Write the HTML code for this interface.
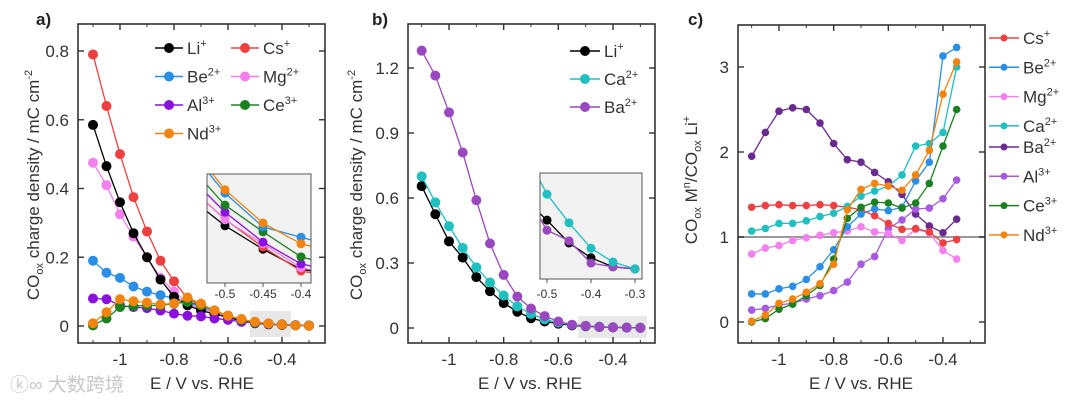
<!DOCTYPE html>
<html><head><meta charset="utf-8"><style>
body{margin:0;background:#fff;}
svg{display:block;font-family:"Liberation Sans","Noto Sans CJK SC",sans-serif;}
</style></head><body>
<svg id="fig" width="1080" height="403" viewBox="0 0 1080 403"></svg>
<script>
const xA = [-1.1,-1.05,-1,-0.95,-0.9,-0.85,-0.8,-0.75,-0.7,-0.65,-0.6,-0.55,-0.5,-0.45,-0.4,-0.35,-0.3];
const aCs = [0.79,0.64,0.50,0.375,0.275,0.19,0.13,0.08,0.06,0.045,0.03,0.02,0.012,0.007,0.004,0.002,0.001];
const aLi = [0.585,0.465,0.36,0.27,0.2,0.135,0.085,0.06,0.045,0.035,0.025,0.015,0.008,0.005,0.003,0.002,0.001];
const aMg = [0.475,0.41,0.325,0.26,0.2,0.14,0.10,0.065,0.05,0.04,0.025,0.015,0.01,0.006,0.003,0.002,0.001];
const aBe = [0.19,0.155,0.14,0.115,0.10,0.09,0.08,0.07,0.055,0.04,0.025,0.015,0.01,0.007,0.005,0.003,0.002];
const aAl = [0.08,0.078,0.06,0.055,0.052,0.045,0.036,0.03,0.028,0.022,0.018,0.012,0.009,0.006,0.004,0.002,0.001];
const aCe = [0.002,0.022,0.055,0.058,0.06,0.06,0.065,0.07,0.06,0.045,0.03,0.018,0.01,0.007,0.004,0.002,0.001];
const aNd = [0.008,0.04,0.078,0.072,0.068,0.063,0.066,0.083,0.065,0.045,0.03,0.02,0.012,0.007,0.004,0.002,0.001];
const xAin = [-0.55,-0.5,-0.45,-0.4,-0.35];
const inLi = [0.016,0.0105,0.0062,0.0025,0.0015];
const inCs = [0.018,0.0117,0.0066,0.0022,0.001];
const inMg = [0.018,0.0116,0.0072,0.0028,0.0015];
const inAl = [0.020,0.0130,0.0075,0.0035,0.002];
const inCe = [0.022,0.0143,0.0094,0.0048,0.003];
const inBe = [0.025,0.0165,0.0103,0.0084,0.0065];
const inNd = [0.026,0.0171,0.0110,0.0072,0.0055];
const bBa = [1.28,1.165,0.995,0.81,0.59,0.39,0.245,0.145,0.09,0.055,0.03,0.015,0.01,0.005,0.003,0.002,0.001];
const bCa = [0.70,0.58,0.47,0.37,0.28,0.21,0.15,0.10,0.065,0.04,0.025,0.015,0.01,0.006,0.004,0.002,0.001];
const bLi = [0.655,0.525,0.40,0.325,0.235,0.17,0.115,0.075,0.045,0.03,0.02,0.012,0.008,0.005,0.003,0.002,0.001];
const xBin = [-0.55,-0.5,-0.45,-0.4,-0.35,-0.3];
const ibCa = [0.024,0.016,0.0106,0.0058,0.0032,0.0019];
const ibBa = [0.016,0.0092,0.0072,0.003,0.0023,0.0019];
const ibLi = [0.015,0.0111,0.0068,0.004,0.0023,0.0019];
const xC = [-1.1,-1.05,-1,-0.95,-0.9,-0.85,-0.8,-0.75,-0.7,-0.65,-0.6,-0.55,-0.5,-0.45,-0.4,-0.35];
const cCs = [1.35,1.37,1.38,1.37,1.37,1.38,1.37,1.35,1.32,1.25,1.16,1.09,1.10,1.06,0.93,0.97];
const cBe = [0.33,0.33,0.39,0.42,0.50,0.65,0.85,1.12,1.27,1.33,1.31,1.35,1.66,1.88,3.13,3.23];
const cMg = [0.80,0.87,0.90,0.96,0.99,1.02,1.05,1.07,1.12,1.06,1.04,0.96,1.09,1.05,0.84,0.74];
const cCa = [1.07,1.10,1.16,1.16,1.19,1.24,1.28,1.36,1.48,1.54,1.60,1.73,2.07,2.10,2.23,3.0];
const cBa = [1.95,2.23,2.48,2.52,2.50,2.34,2.10,1.91,1.88,1.76,1.65,1.50,1.27,1.13,1.05,1.21];
const cAl = [0.14,0.16,0.20,0.22,0.27,0.31,0.37,0.47,0.68,0.77,1.10,1.20,1.33,1.34,1.45,1.67];
const cCe = [0,0.04,0.15,0.21,0.31,0.43,0.74,1.22,1.35,1.41,1.40,1.34,1.40,1.63,2.07,2.50];
const cNd = [0.01,0.08,0.22,0.27,0.35,0.45,0.68,1.32,1.56,1.63,1.60,1.55,1.73,2.02,2.68,3.06];
const ticksX = [-1,-0.8,-0.6,-0.4];
const ticksXLbl = ["-1","-0.8","-0.6","-0.4"];
const ticksYa = [0,0.2,0.4,0.6,0.8];
const ticksYb = [0,0.3,0.6,0.9,1.2];
const ticksYc = [0,1,2,3];

const C = {Li:'#000',Cs:'#ee4040',Be:'#2a8ee6',Mg:'#f47fee',Al:'#8a10e0',Ce:'#1a8020',Nd:'#f5840f',Ca:'#20c0c0',Ba:'#9a48c0',BaC:'#6a2a90',AlC:'#a55ae0'};
const NS='http://www.w3.org/2000/svg';
const svg=document.getElementById('fig');
function el(t,a,p){const e=document.createElementNS(NS,t);for(const k in a)e.setAttribute(k,a[k]);(p||svg).appendChild(e);return e;}
function txt(s,a,p){const e=el('text',a,p);e.innerHTML=s;return e;}
function lin(d0,d1,r0,r1){return v=>r0+(v-d0)/(d1-d0)*(r1-r0);}

function series(g,xs,ys,sx,sy,col,r,name){
  const s=el('g',{},g);
  
  
  el('polyline',{points:xs.map((x,i)=>sx(x)+','+sy(ys[i])).join(' '),fill:'none',stroke:col,'stroke-width':1.3},s);
  xs.forEach((x,i)=>{const c=el('circle',{cx:sx(x),cy:sy(ys[i]),r:r,fill:col},s);
    
    });
}
function frame(g,x0,y0,x1,y1,sx,sy,xt,xl,yt,yl,xmin){
  el('rect',{x:x0,y:y0,width:x1-x0,height:y1-y0,fill:'none',stroke:'#333','stroke-width':1.6},g);
  for(let v=-1.1;v<=-0.29;v+=0.1){const x=sx(v);el('line',{x1:x,x2:x,y1:y1,y2:y1-3,stroke:'#333'},g);el('line',{x1:x,x2:x,y1:y0,y2:y0+3,stroke:'#333'},g);}
  xt.forEach((v,i)=>{const x=sx(v);el('line',{x1:x,x2:x,y1:y1,y2:y1-6,stroke:'#333','stroke-width':1.4},g);el('line',{x1:x,x2:x,y1:y0,y2:y0+6,stroke:'#333','stroke-width':1.4},g);
    const t=txt(xl[i],{x:x,y:y1+22,'text-anchor':'middle','font-size':17,fill:'#333'},g);
    });
  yt.forEach((v,i)=>{const y=sy(v);el('line',{x1:x0,x2:x0+6,y1:y,y2:y,stroke:'#333','stroke-width':1.4},g);el('line',{x1:x1,x2:x1-6,y1:y,y2:y,stroke:'#333','stroke-width':1.4},g);
    const t=txt(yl[i],{x:x0-9,y:y+6,'text-anchor':'end','font-size':17,fill:'#333'},g);
    });
}
function legend(g,items,x,y,dy,lw,r,fs){
  items.forEach((it,i)=>{const yy=y+i*dy;const lg=el('g',{},g);
    
    el('line',{x1:x,x2:x+lw,y1:yy,y2:yy,stroke:it[1],'stroke-width':1.5},lg);
    el('circle',{cx:x+lw/2,cy:yy,r:r,fill:it[1]},lg);
    txt(it[0],{x:x+lw+4,y:yy+6,'font-size':fs,fill:'#333'},lg);});
}
function sup(a,b){return a+'<tspan dy="-7" font-size="11">'+b+'</tspan>';}

// Panel a
{const g=el('g',{});
 const sx=lin(-1,-0.4,120,282), sy=lin(0,0.8,326,51);
 el('rect',{x:250,y:311,width:41,height:26,fill:'#e8e8e8'},g);
 series(g,xA,aBe,sx,sy,C.Be,5,'series-be');series(g,xA,aMg,sx,sy,C.Mg,5,'series-mg');
 series(g,xA,aLi,sx,sy,C.Li,5,'series-li');series(g,xA,aCs,sx,sy,C.Cs,5,'series-cs');
 series(g,xA,aAl,sx,sy,C.Al,5,'series-al');series(g,xA,aCe,sx,sy,C.Ce,5,'series-ce');series(g,xA,aNd,sx,sy,C.Nd,5,'series-nd');
 frame(g,78,24,325,343,sx,sy,ticksX,ticksXLbl,ticksYa,['0','0.2','0.4','0.6','0.8']);
 legend(g,[[sup('Li','+'),C.Li],[sup('Be','2+'),C.Be],[sup('Al','3+'),C.Al],[sup('Nd','3+'),C.Nd]],155,48,28.5,28,5,17);
 legend(g,[[sup('Cs','+'),C.Cs],[sup('Mg','2+'),C.Mg],[sup('Ce','3+'),C.Ce]],231,48,28.5,28,5,17);
 // inset
 const ig=el('g',{},g);
 el('clipPath',{id:'cpa'},ig).appendChild(el('rect',{x:207,y:174,width:104,height:109},ig));
 el('rect',{x:207,y:174,width:104,height:109,fill:'#f2f2f2'},ig);
 const isx=lin(-0.5,-0.4,225,301), isy=lin(0,0.02,283,174);
 const cg=el('g',{'clip-path':'url(#cpa)'},ig);
 [[inLi,C.Li,'li'],[inCs,C.Cs,'cs'],[inMg,C.Mg,'mg'],[inAl,C.Al,'al'],[inCe,C.Ce,'ce'],[inBe,C.Be,'be'],[inNd,C.Nd,'nd']].forEach(s=>series(cg,xAin,s[0],isx,isy,s[1],4.5,'inset-series-'+s[2]));
 el('rect',{x:207,y:174,width:104,height:109,fill:'none',stroke:'#555','stroke-width':1},ig);
 [[-0.5,'-0.5'],[-0.45,'-0.45'],[-0.4,'-0.4']].forEach(t=>{el('line',{x1:isx(t[0]),x2:isx(t[0]),y1:283,y2:287,stroke:'#555'},ig);txt(t[1],{x:isx(t[0]),y:298,'text-anchor':'middle','font-size':12,fill:'#333'},ig);});
 const yl=txt('CO<tspan font-size="11" dy="4">ox</tspan><tspan dy="-4"> charge density / mC cm</tspan><tspan font-size="11" dy="-7">-2</tspan>',{transform:'translate(39,185) rotate(-90)','text-anchor':'middle','font-size':17,fill:'#333'},g);
 
 const xl=txt('E / V vs. RHE',{x:202,y:389,'text-anchor':'middle','font-size':17,fill:'#333'},g);
 
 const pl=txt('a)',{x:36,y:25,'font-size':17,'font-weight':'bold',fill:'#222'},g);
 
}
// Panel b
{const g=el('g',{});
 const sx=lin(-1,-0.4,449,613), sy=lin(0,1.2,328,68);
 el('rect',{x:578,y:316,width:69,height:22,fill:'#e8e8e8'},g);
 series(g,xA,bLi,sx,sy,C.Li,5,'series-li');series(g,xA,bCa,sx,sy,C.Ca,5,'series-ca');series(g,xA,bBa,sx,sy,C.Ba,5,'series-ba');
 frame(g,408,24,655,343,sx,sy,ticksX,ticksXLbl,ticksYb,['0','0.3','0.6','0.9','1.2']);
 legend(g,[[sup('Li','+'),C.Li],[sup('Ca','2+'),C.Ca],[sup('Ba','2+'),C.Ba]],570,51,28,30,5,17);
 const ig=el('g',{},g);
 el('clipPath',{id:'cpb'},ig).appendChild(el('rect',{x:540,y:173,width:102,height:106},ig));
 el('rect',{x:540,y:173,width:102,height:106,fill:'#f2f2f2'},ig);
 const isx=lin(-0.5,-0.3,547,635), isy=lin(0,0.02,279,173);
 const cg=el('g',{'clip-path':'url(#cpb)'},ig);
 [[ibLi,C.Li,'li'],[ibBa,C.Ba,'ba'],[ibCa,C.Ca,'ca']].forEach(s=>series(cg,xBin,s[0],isx,isy,s[1],4.5,'inset-series-'+s[2]));
 el('rect',{x:540,y:173,width:102,height:106,fill:'none',stroke:'#555','stroke-width':1},ig);
 [[-0.5,'-0.5'],[-0.4,'-0.4'],[-0.3,'-0.3']].forEach(t=>{el('line',{x1:isx(t[0]),x2:isx(t[0]),y1:279,y2:283,stroke:'#555'},ig);txt(t[1],{x:isx(t[0]),y:298,'text-anchor':'middle','font-size':12,fill:'#333'},ig);});
 const yl=txt('CO<tspan font-size="11" dy="4">ox</tspan><tspan dy="-4"> charge density / mC cm</tspan><tspan font-size="11" dy="-7">-2</tspan>',{transform:'translate(362,185) rotate(-90)','text-anchor':'middle','font-size':17,fill:'#333'},g);
 
 const xl=txt('E / V vs. RHE',{x:530,y:389,'text-anchor':'middle','font-size':17,fill:'#333'},g);
 
 const pl=txt('b)',{x:372,y:25,'font-size':17,'font-weight':'bold',fill:'#222'},g);
 
}
// Panel c
{const g=el('g',{});
 const sx=lin(-1,-0.4,779,943), sy=lin(0,3,322,67);
 el('line',{x1:738,x2:985,y1:sy(1),y2:sy(1),stroke:'#999','stroke-width':2},g);
 [[cBa,C.BaC,'ba'],[cAl,C.AlC,'al'],[cMg,C.Mg,'mg'],[cCs,C.Cs,'cs'],[cCa,C.Ca,'ca'],[cBe,C.Be,'be'],[cCe,C.Ce,'ce'],[cNd,C.Nd,'nd']].forEach(s=>series(g,xC,s[0],sx,sy,s[1],3.8,'series-'+s[2]));
 frame(g,738,25,985,343,sx,sy,ticksX,ticksXLbl,ticksYc,['0','1','2','3']);
 legend(g,[[sup('Cs','+'),C.Cs],[sup('Be','2+'),C.Be],[sup('Mg','2+'),C.Mg],[sup('Ca','2+'),C.Ca]],989,38,29.3,30,3.5,17);
 legend(g,[[sup('Ba','2+'),C.BaC],[sup('Al','3+'),C.AlC],[sup('Ce','3+'),C.Ce],[sup('Nd','3+'),C.Nd]],989,147,29.3,30,3.5,17);
 const yl=txt('CO<tspan font-size="11" dy="4">ox</tspan><tspan dy="-4"> M</tspan><tspan font-size="11" dy="-7">n</tspan><tspan dy="7">/CO</tspan><tspan font-size="11" dy="4">ox</tspan><tspan dy="-4"> Li</tspan><tspan font-size="11" dy="-7">+</tspan>',{transform:'translate(697,180) rotate(-90)','text-anchor':'middle','font-size':17,fill:'#333'},g);
 
 const xl=txt('E / V vs. RHE',{x:861,y:389,'text-anchor':'middle','font-size':17,fill:'#333'},g);
 
 const pl=txt('c)',{x:688,y:25,'font-size':17,'font-weight':'bold',fill:'#222'},g);
 
}
const wm=txt('ⓚ∞ 大数跨境',{x:10,y:391,'font-size':19,fill:'#c8c8c8'});

</script>
</body></html>
